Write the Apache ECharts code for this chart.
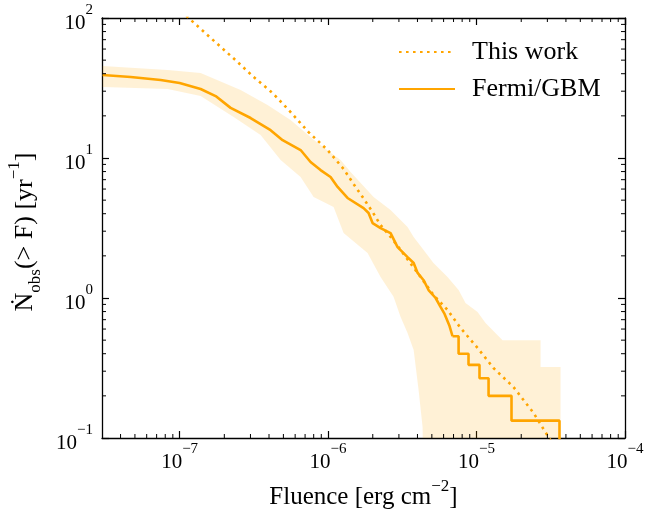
<!DOCTYPE html>
<html>
<head>
<meta charset="utf-8">
<script src="https://cdn.jsdelivr.net/npm/echarts@6/dist/echarts.min.js"></script>
<style>
  html, body { margin: 0; padding: 0; background: #fff; }
  #chart { width: 666px; height: 510px; }
</style>
</head>
<body>
<div id="chart"></div>
<script>
// values: fluence [erg cm^-2], rate [yr^-1]
const thisWorkF = [7.45e-8, 1.15e-7, 1.748e-7, 2.38e-7, 3.15e-7, 4.23e-7, 5.59e-7, 7.39e-7, 9.92e-7,
  1.272e-6, 1.485e-6, 1.708e-6, 1.994e-6, 2.257e-6, 2.636e-6, 2.98e-6, 4.2e-6, 5.13e-6, 6.38e-6,
  7.8e-6, 1.016e-5, 1.3e-5, 1.775e-5, 2.42e-5, 3.05e-5, 3.68e-5];
const thisWorkN = [153, 100, 67, 50, 37.9, 29.1, 21.3, 15.3, 11.4,
  8.35, 6.52, 5.26, 4.11, 3.32, 2.73, 2.31, 1.41, 1.05, 0.821,
  0.611, 0.44, 0.316, 0.231, 0.151, 0.1016, 0.0756];

const gbmF = [3.03e-8, 4.68e-8, 7.45e-8, 1.0e-7, 1.385e-7, 1.748e-7, 2.205e-7, 3.007e-7, 4.1e-7, 4.94e-7,
  6.53e-7, 7.62e-7, 8.9e-7, 1.039e-6, 1.159e-6, 1.352e-6, 1.734e-6, 1.874e-6, 1.994e-6, 2.257e-6,
  2.636e-6, 2.938e-6, 3.43e-6, 3.77e-6, 4.01e-6, 4.4e-6, 4.75e-6, 5.3e-6, 5.72e-6, 6.09e-6,
  6.58e-6, 6.89e-6];
const gbmN = [39.2, 37.9, 36.1, 34.3, 31.1, 27.7, 22.8, 19.3, 15.8, 13.4,
  11.4, 9.36, 8.2, 7.31, 6.21, 5.18, 4.39, 4.05, 3.43, 3.16,
  2.91, 2.31, 1.96, 1.78, 1.51, 1.34, 1.14, 1.0, 0.863, 0.769,
  0.63, 0.533];
// bright end: single bursts, drawn as steps
const gbmTailF = [6.89e-6, 7.57e-6, 8.83e-6, 1.047e-5, 1.205e-5, 1.72e-5, 3.62e-5];
const gbmTailN = [0.533, 0.4, 0.333, 0.267, 0.2, 0.133, 0.0667];

// shaded uncertainty band
const bandUpF = [3.03e-8, 8.3e-8, 1.385e-7, 2.576e-7, 3.91e-7, 5.59e-7, 8.5e-7, 1.214e-6, 1.418e-6,
  2.025e-6, 2.636e-6, 3.43e-6, 3.77e-6, 4.4e-6, 5.13e-6, 6.38e-6, 7.57e-6, 8.43e-6, 1.016e-5,
  1.15e-5, 1.497e-5, 2.7e-5, 2.7e-5, 3.68e-5, 3.68e-5];
const bandUpN = [45.4, 42.5, 40.5, 30.6, 23.9, 18.7, 12.8, 9.67, 7.94,
  5.26, 4.25, 3.21, 2.73, 2.2, 1.78, 1.41, 1.14, 0.92, 0.794,
  0.663, 0.5, 0.5, 0.321, 0.321, 0.01];
const bandLoF = [3.03e-8, 8.3e-8, 1.385e-7, 2.31e-7, 3.51e-7, 4.79e-7, 6.53e-7, 7.99e-7, 1.089e-6,
  1.272e-6, 1.845e-6, 2.257e-6, 2.76e-6, 3.08e-6, 3.43e-6, 3.77e-6, 4.07e-6, 4.33e-6, 4.47e-6, 3.68e-5];
const bandLoN = [32.1, 31.1, 27.7, 19.6, 14.6, 9.67, 7.31, 5.26, 4.47,
  2.91, 2.1, 1.41, 1.02, 0.731, 0.562, 0.425, 0.22, 0.12, 0.01, 0.01];

const xMin = 3e-8, xMax = 1e-4;
const yMin = 0.1, yMax = 100;
const minorMult = [2, 3, 4, 5, 6, 7, 8, 9];
const xDecades = [-8, -7, -6, -5];
const yDecades = [-1, 0, 1];

const ORANGE = '#FFA500';
const FONT = '"Liberation Serif", "DejaVu Serif", serif';

const zip = (a, b) => a.map((v, i) => [v, b[i]]);

const xMinor = [];
xDecades.forEach(e => minorMult.forEach(m => {
  const v = m * Math.pow(10, e);
  if (v > xMin * 1.01 && v < xMax) xMinor.push([v, 1]);
}));
const yMinor = [];
yDecades.forEach(e => minorMult.forEach(m => {
  const v = m * Math.pow(10, e);
  if (v > yMin && v < yMax) yMinor.push([1e-6, v]);
}));

function powLabel(v) {
  const lg = Math.log10(v);
  const e = Math.round(lg);
  if (Math.abs(lg - e) > 1e-6) return '';
  return '{b|10}{s|' + (e < 0 ? '\u2212' + (-e) : e) + '}';
}
const tickRich = {
  b: { fontSize: 21, fontFamily: FONT, color: '#000', lineHeight: 31, verticalAlign: 'bottom' },
  s: { fontSize: 15, fontFamily: FONT, color: '#000', lineHeight: 15, verticalAlign: 'top' }
};

function clipRect(params) {
  const cs = params.coordSys;
  return { type: 'rect', shape: { x: cs.x, y: cs.y, width: cs.width, height: cs.height } };
}

const chart = echarts.init(document.getElementById('chart'));
const axisLine = { show: true, lineStyle: { color: '#000', width: 1.3 } };
const axisTick = { show: true, inside: true, length: 7, lineStyle: { color: '#000', width: 1.2 } };

const option = {
  animation: false,
  backgroundColor: '#fff',
  grid: { left: 102, right: 41, top: 18, bottom: 72, containLabel: false, outerBoundsMode: 'none' },
  legend: {
    orient: 'vertical',
    left: 393,
    top: 34,
    itemWidth: 56,
    itemHeight: 14,
    itemGap: 11,
    data: ['This work', 'Fermi/GBM'],
    itemStyle: { opacity: 0 },
    textStyle: { fontSize: 26, fontFamily: FONT, color: '#000', padding: [0, 0, 0, 12] }
  },
  xAxis: [{
    type: 'log', min: xMin, max: xMax, position: 'bottom',
    axisLine, axisTick, splitLine: { show: false },
    axisLabel: { formatter: powLabel, rich: tickRich, margin: 4, showMinLabel: false },
    name: '{m|Fluence [erg cm}{s|\u22122}{m|]}',
    nameLocation: 'middle', nameGap: 40,
    nameTextStyle: {
      rich: {
        m: { fontSize: 25, fontFamily: FONT, color: '#000', lineHeight: 32, verticalAlign: 'bottom' },
        s: { fontSize: 17, fontFamily: FONT, color: '#000', lineHeight: 17, verticalAlign: 'top' }
      }
    }
  }, {
    type: 'log', min: xMin, max: xMax, position: 'top',
    axisLine, axisTick, splitLine: { show: false }, axisLabel: { show: false }
  }],
  yAxis: [{
    type: 'log', min: yMin, max: yMax, position: 'left',
    axisLine, axisTick, splitLine: { show: false },
    axisLabel: { formatter: powLabel, rich: tickRich, margin: 9 },
    name: '{m|\u1E44}{sub|obs}{m|(> F) [yr}{sup|\u22121}{m|]}',
    nameLocation: 'middle', nameGap: 58,
    nameTextStyle: {
      padding: [0, 8, 0, 0],
      rich: {
        m: { fontSize: 26, fontFamily: FONT, color: '#000', lineHeight: 38, verticalAlign: 'middle' },
        sub: { fontSize: 17, fontFamily: FONT, color: '#000', lineHeight: 17, verticalAlign: 'bottom' },
        sup: { fontSize: 17, fontFamily: FONT, color: '#000', lineHeight: 17, verticalAlign: 'top' }
      }
    }
  }, {
    type: 'log', min: yMin, max: yMax, position: 'right',
    axisLine, axisTick, splitLine: { show: false }, axisLabel: { show: false }
  }],
  series: [
    {
      name: 'band',
      type: 'custom',
      silent: true,
      z: 1,
      data: [[1e-6, 1]],
      renderItem(params, api) {
        const pts = zip(bandUpF, bandUpN).map(p => api.coord(p))
          .concat(zip(bandLoF, bandLoN).reverse().map(p => api.coord(p)));
        return {
          type: 'polygon',
          shape: { points: pts },
          style: { fill: 'rgba(255,165,0,0.16)', stroke: null },
          clipPath: clipRect(params)
        };
      }
    },
    {
      name: 'This work',
      type: 'line',
      z: 4,
      data: zip(thisWorkF, thisWorkN),
      symbol: 'none',
      color: ORANGE,
      lineStyle: { color: ORANGE, width: 2.6, type: [2.6, 4.4], cap: 'butt' },
      clip: true
    },
    {
      name: 'Fermi/GBM',
      type: 'line',
      z: 3,
      data: zip(gbmF, gbmN),
      symbol: 'none',
      color: ORANGE,
      lineStyle: { color: ORANGE, width: 2.6 },
      clip: true
    },
    {
      name: 'Fermi/GBM',
      type: 'line',
      z: 3,
      step: 'end',
      data: zip(gbmTailF, gbmTailN),
      symbol: 'none',
      color: ORANGE,
      lineStyle: { color: ORANGE, width: 2.6 },
      clip: true
    },
    {
      name: 'xminor',
      type: 'custom',
      silent: true,
      z: 5,
      data: xMinor,
      renderItem(params, api) {
        const cs = params.coordSys;
        const x = api.coord([api.value(0), 1])[0];
        const st = { stroke: '#000', lineWidth: 1 };
        return {
          type: 'group',
          children: [
            { type: 'line', shape: { x1: x, y1: cs.y + cs.height, x2: x, y2: cs.y + cs.height - 4 }, style: st },
            { type: 'line', shape: { x1: x, y1: cs.y, x2: x, y2: cs.y + 4 }, style: st }
          ]
        };
      }
    },
    {
      name: 'yminor',
      type: 'custom',
      silent: true,
      z: 5,
      data: yMinor,
      renderItem(params, api) {
        const cs = params.coordSys;
        const y = api.coord([1e-6, api.value(1)])[1];
        const st = { stroke: '#000', lineWidth: 1 };
        return {
          type: 'group',
          children: [
            { type: 'line', shape: { x1: cs.x, y1: y, x2: cs.x + 4, y2: y }, style: st },
            { type: 'line', shape: { x1: cs.x + cs.width, y1: y, x2: cs.x + cs.width - 4, y2: y }, style: st }
          ]
        };
      }
    }
  ]
};
chart.setOption(option);
</script>
</body>
</html>
